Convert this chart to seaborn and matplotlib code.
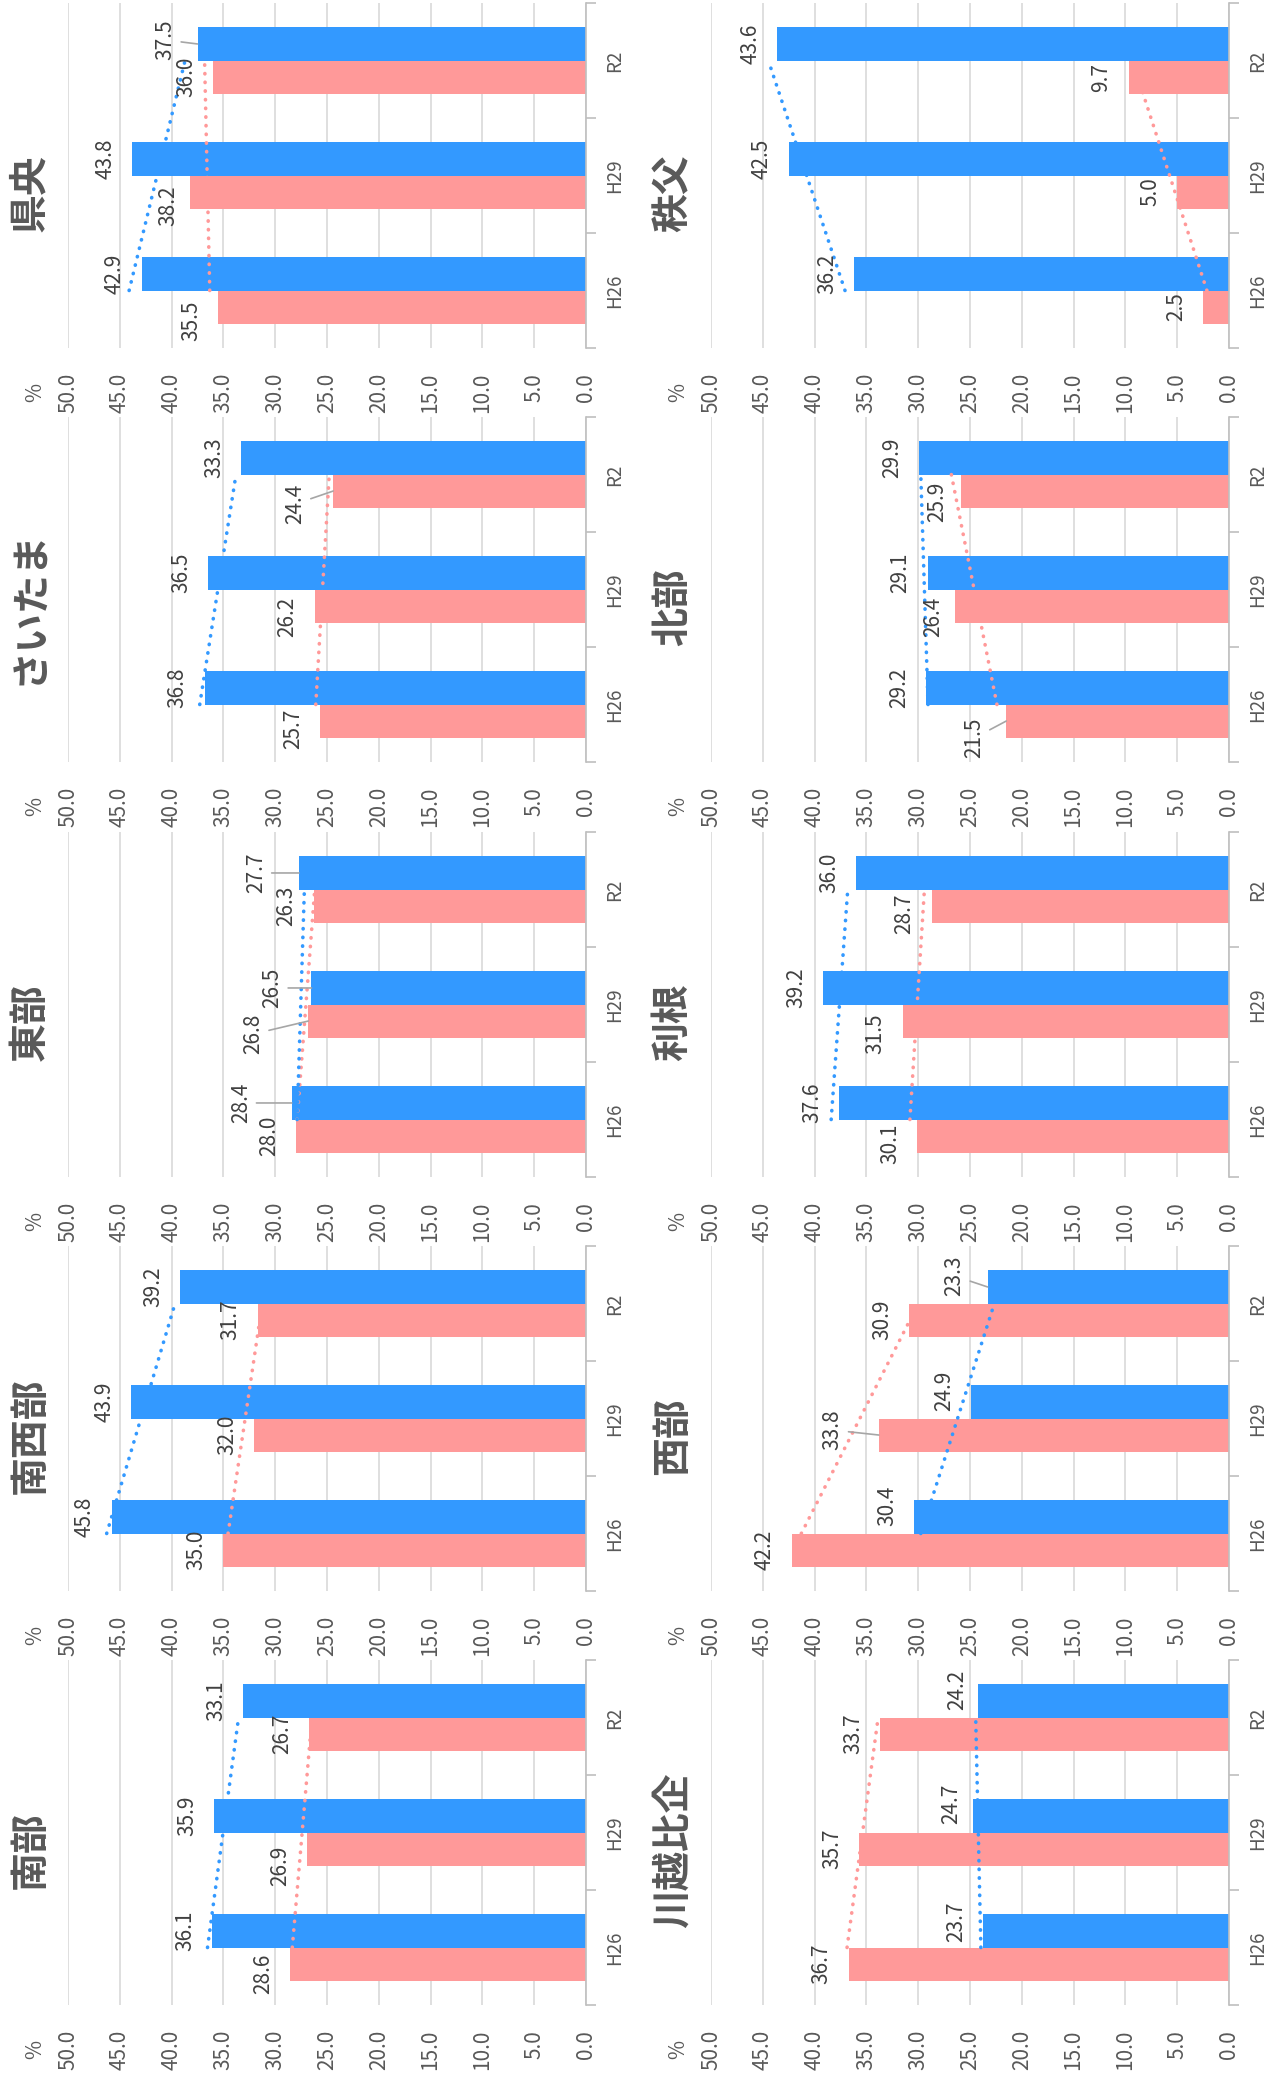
import numpy as np
import pandas as pd
import matplotlib
matplotlib.use("Agg")
import matplotlib.pyplot as plt
import seaborn as sns

# data
regions = ["南部", "南西部", "東部", "さいたま", "県央",
           "川越比企", "西部", "利根", "北部", "秩父"]
years = ["H26", "H29", "R2"]
pink_vals = [
    [28.6, 26.9, 26.7],
    [35.0, 32.0, 31.7],
    [28.0, 26.8, 26.3],
    [25.7, 26.2, 24.4],
    [35.5, 38.2, 36.0],
    [36.7, 35.7, 33.7],
    [42.2, 33.8, 30.9],
    [30.1, 31.5, 28.7],
    [21.5, 26.4, 25.9],
    [2.5, 5.0, 9.7],
]
blue_vals = [
    [36.1, 35.9, 33.1],
    [45.8, 43.9, 39.2],
    [28.4, 26.5, 27.7],
    [36.8, 36.5, 33.3],
    [42.9, 43.8, 37.5],
    [23.7, 24.7, 24.2],
    [30.4, 24.9, 23.3],
    [37.6, 39.2, 36.0],
    [29.2, 29.1, 29.9],
    [36.2, 42.5, 43.6],
]
value_ticks = np.arange(0, 50.1, 5)

# hand-moved data labels: (region, year, series) -> (dx px, dy px down, leader line)
label_nudge = {
    ("南部", "H29", "pink"): (0, 17, False),
    ("南部", "H26", "pink"): (0, 10, False),
    ("東部", "R2", "blue"): (-16, 0, True),
    ("東部", "H29", "blue"): (-12, 0, True),
    ("東部", "H29", "pink"): (-28, 13, True),
    ("東部", "H26", "blue"): (-24, 0, True),
    ("さいたま", "R2", "pink"): (-11, 13, True),
    ("さいたま", "H29", "pink"): (0, 11, False),
    ("さいたま", "H26", "pink"): (0, 8, False),
    ("県央", "R2", "blue"): (-5, -4, True),
    ("県央", "H29", "pink"): (5, 14, False),
    ("県央", "H26", "pink"): (0, 14, False),
    ("利根", "R2", "pink"): (0, 8, False),
    ("利根", "H29", "pink"): (0, 13, False),
    ("利根", "H26", "pink"): (0, 8, False),
    ("北部", "R2", "pink"): (4, 11, False),
    ("北部", "H29", "pink"): (5, 11, False),
    ("北部", "H26", "pink"): (-5, 17, True),
    ("西部", "R2", "blue"): (-6, -11, True),
    ("西部", "H29", "blue"): (0, -11, False),
    ("西部", "H29", "pink"): (-19, -5, True),
    ("西部", "H26", "blue"): (0, -11, False),
    ("川越比企", "R2", "blue"): (6, -11, False),
    ("川越比企", "H29", "blue"): (5, -12, False),
    ("川越比企", "H26", "blue"): (0, -9, False),
}

BLUE = "#3399FF"
PINK = "#FF9999"
GRID = "#D9D9D9"
AXIS = "#BFBFBF"
TXT = "#595959"

sns.set_style("white")
plt.rcParams["font.family"] = ["Noto Sans CJK JP", "DejaVu Sans"]

W, H = 1269, 2082
fig = plt.figure(figsize=(W / 100, H / 100), dpi=100)

order = ["R2", "H29", "H26"]
bar_w = 0.575
ax_w = 518
ax_h = 345
col_left = [68, 711]
row_top = [3, 417, 832, 1246, 1660]

for i, region in enumerate(regions):
    col = i // 5
    row = 4 - (i % 5)
    left = col_left[col]
    top = row_top[row]
    ax = fig.add_axes([left / W, (H - top - ax_h) / H, ax_w / W, ax_h / H])

    df = pd.DataFrame({
        "year": years * 2,
        "series": ["blue"] * 3 + ["pink"] * 3,
        "value": blue_vals[i] + pink_vals[i],
    })
    sns.barplot(data=df, x="value", y="year", hue="series", order=order,
                hue_order=["blue", "pink"], palette={"blue": BLUE, "pink": PINK},
                orient="h", width=bar_w, saturation=1, errorbar=None,
                legend=False, linewidth=0, ax=ax)

    ax.set_xlim(50, 0)
    ax.set_ylim(2.5, -0.5)
    ax.set_xlabel("")
    ax.set_ylabel("")

    # linear trend lines at category centres
    t = np.arange(3)
    ypos = [order.index(y) for y in years]
    for vals, color in [(pink_vals[i], PINK), (blue_vals[i], BLUE)]:
        fit = np.polyval(np.polyfit(t, vals, 1), t)
        ax.plot(fit, ypos, color=color, lw=2.6, linestyle=(0, (0.1, 2.3)),
                dash_capstyle="round", zorder=5)

    # data labels
    for series, vals, off in [("blue", blue_vals[i], -bar_w / 4),
                              ("pink", pink_vals[i], bar_w / 4)]:
        for year, v in zip(years, vals):
            dx, dy, leader = label_nudge.get((region, year, series), (0, 0, False))
            kw = {}
            if leader:
                kw["arrowprops"] = dict(arrowstyle="-", color="#A6A6A6", lw=1.2,
                                        shrinkA=1, shrinkB=0)
            ax.annotate(f"{v:.1f}", xy=(v, order.index(year) + off),
                        xytext=(-16 + dx, -dy), textcoords="offset pixels",
                        rotation=90, ha="right", va="center",
                        fontsize=15, color="#404040", zorder=6, **kw)

    # value axis (bottom, rotated)
    ax.set_xticks(value_ticks)
    ax.set_xticklabels([f"{v:.1f}" for v in value_ticks])
    ax.tick_params(axis="x", length=0, pad=18, labelsize=15,
                   labelcolor=TXT, labelrotation=90)
    ax.grid(axis="x", color=GRID, lw=1.2)
    ax.grid(axis="y", visible=False)
    ax.set_axisbelow(True)

    # category axis (right, rotated)
    ax.yaxis.tick_right()
    ax.set_yticks(range(3))
    ax.set_yticklabels(order)
    ax.set_yticks([-0.5, 0.5, 1.5, 2.5], minor=True)
    ax.tick_params(axis="y", which="major", length=0, pad=13, labelsize=13.5,
                   labelcolor=TXT, labelrotation=90, right=True, left=False)
    ax.tick_params(axis="y", which="minor", length=7, width=1.2, color=AXIS,
                   right=True, left=False)
    for lbl in ax.get_yticklabels():
        lbl.set_va("center")
        lbl.set_ha("left")

    for s in ["top", "left", "bottom"]:
        ax.spines[s].set_visible(False)
    ax.spines["right"].set_color(AXIS)
    ax.spines["right"].set_linewidth(1.2)

    ax.text(-33 / ax_w, -44 / ax_h, "%", transform=ax.transAxes, rotation=90,
            ha="center", va="center", fontsize=15, color=TXT)
    ax.text(-38 / ax_w, 1 - 190 / ax_h, region, transform=ax.transAxes,
            rotation=90, ha="center", va="center", fontsize=28,
            fontweight="bold", color=TXT)

fig.savefig("out.png", dpi=100, facecolor="white")
